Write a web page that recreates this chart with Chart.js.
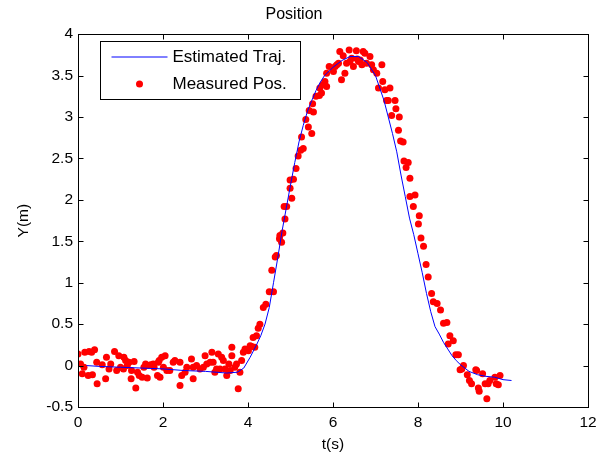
<!DOCTYPE html>
<html>
<head>
<meta charset="utf-8">
<script src="https://cdn.jsdelivr.net/npm/chart.js@4.4.0/dist/chart.umd.min.js"></script>
<style>
  html, body { margin: 0; padding: 0; background: #fff; }
  #wrap { width: 606px; height: 460px; }
</style>
</head>
<body>
<div id="wrap"><canvas id="grafico" width="606" height="460"></canvas></div>
<script>
// estimated trajectory (blue line)
var estT = [0.2, 0.5, 1.0, 1.5, 2.0, 2.5, 3.0, 3.5, 3.75, 3.9, 4.05, 4.2, 4.3, 4.4, 4.5, 4.6, 4.7, 4.8, 4.9, 5.0,
  5.1, 5.2, 5.3, 5.4, 5.5, 5.6, 5.7, 5.8, 6.0, 6.2, 6.4, 6.6, 6.8, 7.0, 7.1, 7.2, 7.3, 7.4, 7.5, 7.6,
  7.7, 7.8, 7.9, 8.0, 8.1, 8.2, 8.3, 8.4, 8.5, 8.6, 8.7, 8.8, 8.9, 9.0, 9.2, 9.4, 9.6, 9.8, 10.0, 10.2];
var estY = [0.0, -0.01, -0.02, -0.03, -0.04, -0.06, -0.07, -0.09, -0.08, -0.03, 0.1, 0.25, 0.36, 0.5, 0.7, 1.0, 1.3, 1.62, 1.9, 2.18,
  2.45, 2.7, 2.9, 3.07, 3.2, 3.32, 3.42, 3.5, 3.6, 3.68, 3.73, 3.73, 3.66, 3.5, 3.35, 3.2, 3.0, 2.8, 2.58, 2.3,
  2.04, 1.78, 1.58, 1.35, 1.12, 0.87, 0.65, 0.47, 0.38, 0.28, 0.2, 0.12, 0.06, 0.01, -0.07, -0.11, -0.13, -0.14, -0.17, -0.18];

// measured positions (red dots)
var medT = [0.0, 0.06, 0.1, 0.14, 0.16, 0.24, 0.26, 0.32, 0.34, 0.39, 0.44, 0.45, 0.57, 0.65, 0.67, 0.73, 0.77, 0.86, 0.91, 0.96,
  1.0, 1.07, 1.08, 1.12, 1.16, 1.2, 1.25, 1.26, 1.32, 1.36, 1.4, 1.44, 1.51, 1.55, 1.59, 1.63, 1.65, 1.71, 1.77, 1.79,
  1.87, 1.89, 1.91, 1.93, 1.97, 2.01, 2.05, 2.09, 2.16, 2.24, 2.28, 2.4, 2.4, 2.44, 2.52, 2.56, 2.67, 2.71, 2.71, 2.79,
  2.87, 2.95, 2.99, 3.03, 3.11, 3.15, 3.18, 3.22, 3.26, 3.3, 3.34, 3.38, 3.42, 3.46, 3.5, 3.55, 3.58, 3.62, 3.62, 3.69,
  3.73, 3.77, 3.81, 3.85, 3.89, 3.93, 4.01, 4.05, 4.09, 4.12, 4.16, 4.2, 4.24, 4.28, 4.36, 4.42, 4.5, 4.56, 4.6, 4.64,
  4.67, 4.74, 4.75, 4.79, 4.82, 4.85, 4.87, 4.91, 4.99, 5.03, 4.99, 5.07, 5.13, 5.18, 5.24, 5.3, 5.26, 5.36, 5.42, 5.5,
  5.44, 5.54, 5.52, 5.6, 5.68, 5.69, 5.73, 5.76, 5.81, 5.85, 5.85, 5.91, 6.01, 6.05, 6.09, 6.13, 6.16, 6.2, 6.24, 6.28,
  6.32, 6.38, 6.4, 6.44, 6.48, 6.55, 6.57, 6.6, 6.64, 6.68, 6.71, 6.75, 6.79, 6.87, 6.91, 6.95, 7.03, 7.07, 7.15, 7.17,
  7.22, 7.26, 7.3, 7.34, 7.38, 7.46, 7.48, 7.54, 7.56, 7.59, 7.65, 7.67, 7.72, 7.77, 7.81, 7.81, 7.89, 7.93, 8.01, 8.03,
  8.07, 8.13, 8.19, 8.24, 8.32, 8.36, 8.45, 8.53, 8.6, 8.68, 8.71, 8.75, 8.83, 8.89, 8.95, 8.99, 9.03, 9.07, 9.16, 9.21,
  9.26, 9.36, 9.38, 9.42, 9.44, 9.52, 9.58, 9.62, 9.65, 9.69, 9.81, 9.84, 9.89, 9.93];
var medY = [0.14, 0.02, -0.1, -0.02, 0.16, -0.12, 0.17, 0.16, -0.11, 0.19, 0.04, -0.22, 0.01, -0.16, 0.1, -0.04, 0.02, 0.17, -0.06, 0.12,
  -0.02, -0.04, 0.1, 0.06, 0.0, 0.04, -0.16, -0.06, 0.05, -0.27, -0.08, -0.12, -0.14, -0.02, 0.02, -0.15, 0.0, 0.01, 0.02, -0.02,
  -0.12, 0.04, 0.06, -0.14, 0.1, -0.02, 0.12, -0.06, -0.06, 0.04, 0.06, 0.04, -0.24, -0.12, -0.08, -0.02, 0.08, -0.02, -0.16, 0.0,
  -0.04, -0.02, 0.12, 0.02, 0.04, 0.16, 0.04, -0.08, -0.04, 0.14, -0.04, 0.1, 0.06, -0.04, -0.12, 0.02, -0.06, 0.22, 0.12, -0.02,
  0.02, -0.28, -0.08, 0.06, 0.16, 0.2, 0.18, 0.24, 0.23, 0.34, 0.22, 0.36, 0.45, 0.5, 0.7, 0.74, 0.89, 1.15, 0.89, 1.31,
  1.33, 1.53, 1.57, 1.49, 1.6, 1.92, 1.77, 1.92, 2.14, 2.02, 2.24, 2.25, 2.38, 2.53, 2.6, 2.62, 2.76, 2.97, 2.88, 2.8,
  3.08, 3.06, 3.16, 3.25, 3.26, 3.35, 3.29, 3.39, 3.43, 3.37, 3.53, 3.61, 3.55, 3.61, 3.63, 3.65, 3.79, 3.45, 3.74, 3.53,
  3.65, 3.81, 3.67, 3.71, 3.61, 3.8, 3.7, 3.67, 3.69, 3.63, 3.79, 3.77, 3.65, 3.73, 3.63, 3.57, 3.53, 3.35, 3.63, 3.43,
  3.33, 3.2, 3.2, 3.35, 3.02, 3.2, 3.1, 2.84, 3.0, 2.71, 2.7, 2.47, 2.39, 2.45, 2.26, 2.04, 1.92, 2.06, 1.71, 1.81,
  1.54, 1.44, 1.22, 1.07, 0.87, 0.77, 0.75, 0.67, 0.51, 0.52, 0.26, 0.36, 0.3, 0.13, 0.13, -0.05, -0.04, 0.0, -0.11, -0.18,
  -0.22, -0.05, -0.06, -0.27, -0.31, -0.1, -0.22, -0.4, -0.22, -0.18, -0.14, -0.22, -0.23, -0.12];

var xTicks = [0, 2, 4, 6, 8, 10, 12];
var yTicks = [-0.5, 0, 0.5, 1, 1.5, 2, 2.5, 3, 3.5, 4];
var xTickLabels = ['0', '2', '4', '6', '8', '10', '12'];
var yTickLabels = ['-0.5', '0', '0.5', '1', '1.5', '2', '2.5', '3', '3.5', '4'];

var fonte = 'Arial, "Liberation Sans", sans-serif';

function pares(t, y) {
  return t.map(function (v, i) { return { x: v, y: y[i] }; });
}

// box, inward ticks and the legend drawn inside the axes (MATLAB style)
var moldura = {
  id: 'moldura',
  afterDatasetsDraw: function (chart) {
    var ctx = chart.ctx, a = chart.chartArea;
    var sx = chart.scales.x, sy = chart.scales.y;
    var l = Math.round(a.left) + 0.5, r = Math.round(a.right) + 0.5;
    var t = Math.round(a.top) + 0.5, b = Math.round(a.bottom) + 0.5;
    ctx.save();
    ctx.strokeStyle = '#000';
    ctx.lineWidth = 1;
    ctx.strokeRect(l, t, r - l, b - t);
    ctx.beginPath();
    xTicks.forEach(function (v) {
      var p = Math.round(sx.getPixelForValue(v)) + 0.5;
      ctx.moveTo(p, b); ctx.lineTo(p, b - 5);
      ctx.moveTo(p, t); ctx.lineTo(p, t + 5);
    });
    yTicks.forEach(function (v) {
      var p = Math.round(sy.getPixelForValue(v)) + 0.5;
      ctx.moveTo(l, p); ctx.lineTo(l + 5, p);
      ctx.moveTo(r, p); ctx.lineTo(r - 5, p);
    });
    ctx.stroke();

    // legend
    var ds = chart.data.datasets;
    var lx = l + 22, ly = t + 7, lw = 200, lh = 58;
    ctx.fillStyle = '#fff';
    ctx.fillRect(lx, ly, lw, lh);
    ctx.strokeRect(lx, ly, lw, lh);
    ctx.strokeStyle = ds[0].borderColor;
    ctx.beginPath();
    ctx.moveTo(lx + 11, ly + 15.5);
    ctx.lineTo(lx + 67, ly + 15.5);
    ctx.stroke();
    ctx.fillStyle = ds[1].backgroundColor;
    ctx.beginPath();
    ctx.arc(lx + 39, ly + 42.5, 3.5, 0, Math.PI * 2);
    ctx.fill();
    ctx.fillStyle = '#000';
    ctx.font = '17px ' + fonte;
    ctx.textBaseline = 'middle';
    ctx.fillText(ds[0].label, lx + 72, ly + 16);
    ctx.fillText(ds[1].label, lx + 72, ly + 43);
    ctx.restore();
  }
};

var ctx = document.getElementById('grafico').getContext('2d');

var grafico = new Chart(ctx, {
  type: 'scatter',
  data: {
    datasets: [{
      type: 'line',
      label: 'Estimated Traj.',
      data: pares(estT, estY),
      borderColor: '#0000ff',
      borderWidth: 1,
      pointRadius: 0,
      fill: false,
      tension: 0
    }, {
      label: 'Measured Pos.',
      data: pares(medT, medY),
      backgroundColor: '#ff0000',
      borderColor: '#ff0000',
      borderWidth: 0,
      pointRadius: 3.5
    }]
  },
  options: {
    responsive: false,
    animation: false,
    devicePixelRatio: 1,
    layout: { padding: { left: 0, right: 18, top: 0, bottom: 0 } },
    plugins: {
      legend: { display: false },
      tooltip: { enabled: false },
      title: {
        display: true,
        text: 'Position',
        color: '#000',
        font: { family: fonte, size: 16, weight: 'normal' },
        padding: { top: 5, bottom: 10 }
      }
    },
    scales: {
      x: {
        type: 'linear',
        position: 'bottom',
        min: 0,
        max: 12,
        grid: { display: false, drawTicks: false },
        border: { display: false },
        afterBuildTicks: function (s) { s.ticks = xTicks.map(function (v) { return { value: v }; }); },
        afterFit: function (s) { s.height = 53; },
        ticks: {
          color: '#000',
          padding: 6,
          font: { family: fonte, size: 15.5 },
          callback: function (v) { return xTickLabels[xTicks.indexOf(v)]; }
        },
        title: {
          display: true,
          text: 't(s)',
          color: '#000',
          font: { family: fonte, size: 15.5 },
          padding: { top: 0, bottom: 6 }
        }
      },
      y: {
        type: 'linear',
        min: -0.5,
        max: 4,
        grid: { display: false, drawTicks: false },
        border: { display: false },
        afterBuildTicks: function (s) { s.ticks = yTicks.map(function (v) { return { value: v }; }); },
        afterFit: function (s) { s.width = 78; },
        ticks: {
          color: '#000',
          padding: 5,
          font: { family: fonte, size: 15.5 },
          callback: function (v) { return yTickLabels[yTicks.indexOf(v)]; }
        },
        title: {
          display: true,
          text: 'Y(m)',
          color: '#000',
          font: { family: fonte, size: 15.5 },
          padding: { top: 14, bottom: 0 }
        }
      }
    }
  },
  plugins: [moldura]
});
</script>
</body>
</html>
